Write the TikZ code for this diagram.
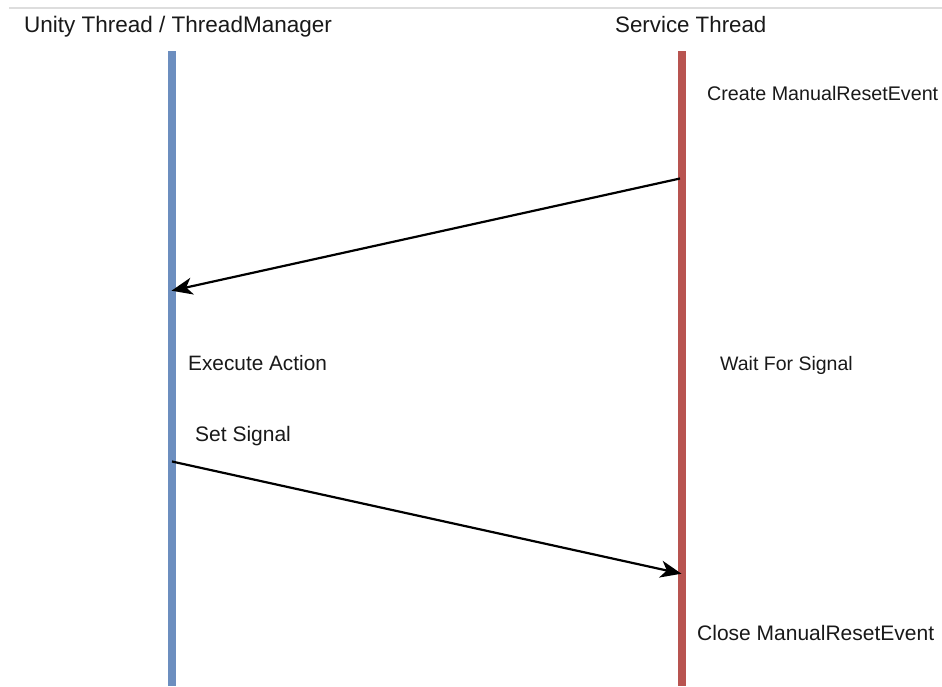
\documentclass[tikz,border=0pt]{standalone}
\usepackage{fontspec}
\setmainfont{Liberation Sans}
\usetikzlibrary{arrows.meta}
\definecolor{lifeblue}{RGB}{108,142,191}
\definecolor{lifered}{RGB}{184,84,80}
\definecolor{rulegray}{RGB}{221,221,221}
\tikzset{
  lifeline/.style={line width=7.5pt},
  msg/.style={line width=2.2pt, -{Stealth[length=21pt, width=17pt, inset=6pt]}, shorten >=-1pt},
  lbl/.style={anchor=base west, inner sep=0pt, text=black!90},
}
\begin{document}
\begin{tikzpicture}[x=1pt, y=-1pt]
  \useasboundingbox (0,0) rectangle (942,686);
  \fill[white] (0,0) rectangle (942,686);

  % top rule
  \coordinate (ruleL) at (9,7.7);
  \coordinate (ruleR) at (942,7.7);
  \draw[rulegray, line width=2pt] (ruleL) -- (ruleR);

  % headers
  \node[lbl, font=\fontsize{22.5}{26}\selectfont] (hUnity) at (24,32) {Unity Thread / ThreadManager};
  \node[lbl, font=\fontsize{22.3}{26}\selectfont] (hService) at (615,32) {Service Thread};

  % lifelines
  \coordinate (uTop) at (172,51);
  \coordinate (uBot) at (172,686);
  \coordinate (sTop) at (682,51);
  \coordinate (sBot) at (682,686);
  \draw[lifeline, lifeblue] (uTop) -- (uBot);
  \draw[lifeline, lifered] (sTop) -- (sBot);

  % message anchors on the lifelines
  \coordinate (sPost) at (680,178.5);
  \coordinate (uRecv) at (172.5,290.5);
  \coordinate (uSet) at (172,461.5);
  \coordinate (sWake) at (680.5,573.5);

  % messages
  \draw[msg] (sPost) -- (uRecv);
  \draw[msg] (uSet) -- (sWake);

  % step labels
  \node[lbl, font=\fontsize{19.7}{24}\selectfont] (create) at (707,100.5) {Create ManualResetEvent};
  \node[lbl, font=\fontsize{20.8}{24}\selectfont] (exec) at (188,370) {Execute Action};
  \node[lbl, font=\fontsize{19.5}{24}\selectfont] (wait) at (720,370) {Wait For Signal};
  \node[lbl, font=\fontsize{21}{24}\selectfont] (setsig) at (195,441.5) {Set Signal};
  \node[lbl, font=\fontsize{21}{24}\selectfont] (close) at (697,640) {Close ManualResetEvent};
\end{tikzpicture}
\end{document}
